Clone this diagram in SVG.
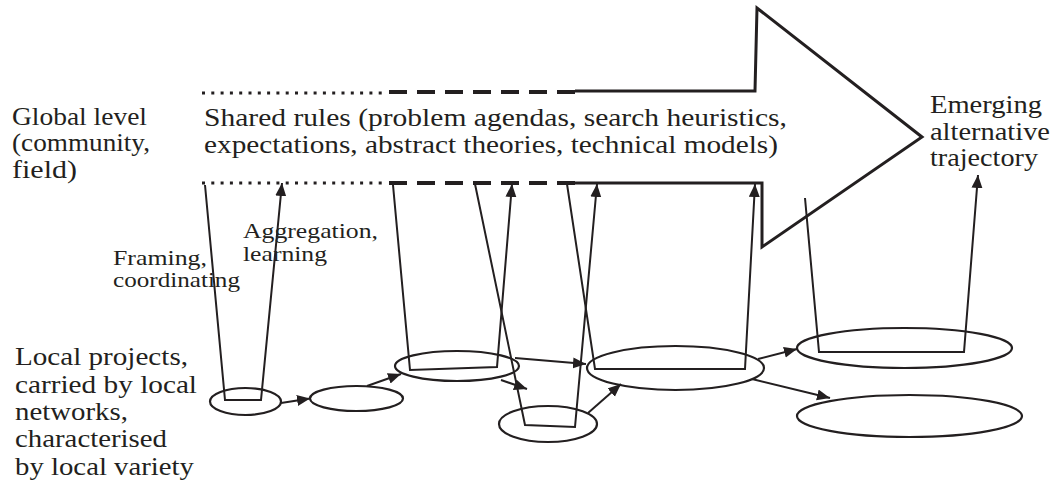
<svg xmlns="http://www.w3.org/2000/svg" width="1057" height="495" viewBox="0 0 1057 495">
<defs>
<marker id="ah" markerUnits="userSpaceOnUse" markerWidth="14" markerHeight="12" refX="13" refY="5.5" orient="auto">
<path d="M0,0 L13,5.5 L0,11 z" fill="#231f20"/>
</marker>
<style>
text{font-family:'Liberation Serif','Times New Roman',Times,serif;fill:#231f20}
.t{font-size:26px}
.s{font-size:22px}
.el{fill:none;stroke:#231f20;stroke-width:2.2}
.dot{fill:none;stroke:#231f20;stroke-width:3;stroke-dasharray:3 6.3}
.dash{fill:none;stroke:#231f20;stroke-width:4;stroke-dasharray:18 10}
.big{fill:none;stroke:#231f20;stroke-width:3;stroke-linejoin:miter}
.arr{fill:none;stroke:#231f20;stroke-width:2;marker-end:url(#ah)}
</style>
</defs>
<rect width="1057" height="495" fill="#ffffff"/>

<g id="global-frame">
<line class="dot" x1="202" y1="93" x2="387" y2="93"/>
<line class="dot" x1="202" y1="183" x2="387" y2="183"/>
<line class="dash" x1="389" y1="92" x2="575" y2="92"/>
<line class="dash" x1="389" y1="183" x2="575" y2="183"/>
<path class="big" d="M575,91 L755,91 L757,8 L922,137 L762,247 L762,183 L575,183"/>
<text class="t" x="204" y="126" textLength="583" lengthAdjust="spacingAndGlyphs">Shared rules (problem agendas, search heuristics,</text>
<text class="t" x="204" y="153" textLength="574" lengthAdjust="spacingAndGlyphs">expectations, abstract theories, technical models)</text>
</g>

<g id="label-global">
<text class="t" x="12" y="125" textLength="135" lengthAdjust="spacingAndGlyphs">Global level</text>
<text class="t" x="12" y="151" textLength="138" lengthAdjust="spacingAndGlyphs">(community,</text>
<text class="t" x="12" y="178" textLength="65" lengthAdjust="spacingAndGlyphs">field)</text>
</g>

<g id="label-emerging">
<text class="t" x="930" y="113" textLength="112" lengthAdjust="spacingAndGlyphs">Emerging</text>
<text class="t" x="930" y="140" textLength="120" lengthAdjust="spacingAndGlyphs">alternative</text>
<text class="t" x="930" y="166" textLength="108" lengthAdjust="spacingAndGlyphs">trajectory</text>
</g>

<g id="label-local">
<text class="t" x="15" y="365" textLength="173" lengthAdjust="spacingAndGlyphs">Local projects,</text>
<text class="t" x="15" y="393" textLength="182" lengthAdjust="spacingAndGlyphs">carried by local</text>
<text class="t" x="15" y="420" textLength="113" lengthAdjust="spacingAndGlyphs">networks,</text>
<text class="t" x="15" y="447" textLength="152" lengthAdjust="spacingAndGlyphs">characterised</text>
<text class="t" x="15" y="475" textLength="179" lengthAdjust="spacingAndGlyphs">by local variety</text>
</g>

<g id="label-framing">
<text class="s" x="113" y="265" textLength="94" lengthAdjust="spacingAndGlyphs">Framing,</text>
<text class="s" x="113" y="287" textLength="127" lengthAdjust="spacingAndGlyphs">coordinating</text>
</g>

<g id="label-aggregation">
<text class="s" x="243" y="238" textLength="135" lengthAdjust="spacingAndGlyphs">Aggregation,</text>
<text class="s" x="243" y="261" textLength="84" lengthAdjust="spacingAndGlyphs">learning</text>
</g>

<g id="project-1"><ellipse class="el" cx="245.5" cy="401.5" rx="35.5" ry="13.5"/></g>
<g id="project-2"><ellipse class="el" cx="356.5" cy="398.5" rx="46.5" ry="12.5"/></g>
<g id="project-3"><ellipse class="el" cx="457" cy="366" rx="62" ry="15"/></g>
<g id="project-4"><ellipse class="el" cx="548" cy="424" rx="49" ry="18"/></g>
<g id="project-5"><ellipse class="el" cx="675.5" cy="368" rx="88.5" ry="22"/></g>
<g id="project-6"><ellipse class="el" cx="904.5" cy="348" rx="107.5" ry="20"/></g>
<g id="project-7"><ellipse class="el" cx="909.5" cy="416" rx="112.5" ry="21"/></g>

<g id="connectors">
<path class="arr" d="M205,185 L225,400 L261,400 L282,183"/>
<path class="arr" d="M393,185 L410,370 L497,367 L512,184"/>
<path class="arr" d="M475,184 L525,425 L575,427 L597,184"/>
<path class="arr" d="M567,184 L595,369 L745,369 L755,184"/>
<path class="arr" d="M805,198 L819,352 L964,352 L978,175"/>
<line class="arr" x1="281" y1="403" x2="310" y2="398.5"/>
<line class="arr" x1="367" y1="386" x2="401" y2="374"/>
<line class="arr" x1="515" y1="358" x2="586" y2="364"/>
<line class="arr" x1="501" y1="380" x2="527" y2="389"/>
<line class="arr" x1="588" y1="413" x2="621" y2="384"/>
<line class="arr" x1="758" y1="359" x2="797" y2="349"/>
<line class="arr" x1="752" y1="379" x2="830" y2="398"/>
</g>
</svg>
